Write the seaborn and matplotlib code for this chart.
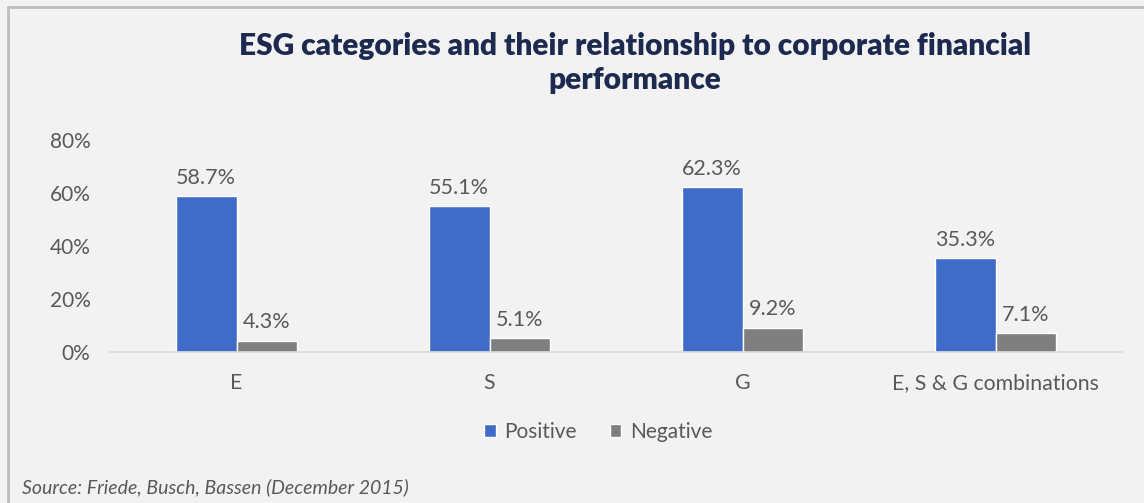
import matplotlib
matplotlib.use("Agg")
import matplotlib.pyplot as plt
from matplotlib.lines import Line2D
from matplotlib.patches import Patch
import seaborn as sns
import pandas as pd

categories = ["E", "S", "G", "E, S & G combinations"]
positive = [58.7, 55.1, 62.3, 35.3]
negative = [4.3, 5.1, 9.2, 7.1]
series = ["Positive", "Negative"]
yticks = [0, 20, 40, 60, 80]

BG = "#f2f2f2"
BLUE = "#3f6cc9"
GREY = "#7f7f7f"
TEXT = "#595959"
TITLE = "#1c2a4f"
FONT = ["Lato", "DejaVu Sans"]

sns.set_theme(style="white")
plt.rcParams["font.family"] = FONT

df = pd.DataFrame({
    "category": categories * 2,
    "series": [series[0]] * len(categories) + [series[1]] * len(categories),
    "value": positive + negative,
})

fig = plt.figure(figsize=(11.44, 5.03), dpi=100, facecolor=BG)
ax = fig.add_axes([110 / 1144, 151 / 503, 1012 / 1144, 212 / 503])
ax.set_facecolor(BG)

sns.barplot(data=df, x="category", y="value", hue="series", order=categories,
            hue_order=series, palette=[BLUE, GREY], width=0.48, gap=0,
            saturation=1, ax=ax, legend=False)

for cont in ax.containers:
    ax.bar_label(cont, labels=[f"{v:.1f}%" for v in cont.datavalues],
                 padding=6, fontsize=15.5, color=TEXT)

ax.set_ylim(0, 80)
ax.set_xlim(-0.5, 3.5)
ax.set_yticks(yticks)
ax.set_yticklabels([f"{t}%" for t in yticks], fontsize=15, color=TEXT)
ax.tick_params(axis="y", length=0, pad=14)
ax.tick_params(axis="x", length=0, pad=15, labelsize=15.3, labelcolor=TEXT)
ax.set_xlabel("")
ax.set_ylabel("")
for side in ["top", "right", "left"]:
    ax.spines[side].set_visible(False)
ax.spines["bottom"].set_color("#d9d9d9")
ax.spines["bottom"].set_linewidth(1.2)

fig.text(0.555, 1 - 63 / 503, "ESG categories and their relationship to corporate financial\nperformance",
         ha="center", va="center", fontsize=21.5, fontweight="heavy", color=TITLE,
         linespacing=1.28)

handles = [Patch(facecolor=BLUE, label=series[0]), Patch(facecolor=GREY, label=series[1])]
fig.legend(handles=handles, loc="center", bbox_to_anchor=(0.523, 1 - 432 / 503), ncol=2,
           frameon=False, fontsize=15, handlelength=0.55, handleheight=0.55,
           handletextpad=0.4, columnspacing=1.6, labelcolor=TEXT)

fig.text(22 / 1144, 1 - 487 / 503, "Source: Friede, Busch, Bassen (December 2015)",
         ha="left", va="center", fontsize=14, style="italic", color=TEXT)

# frame edges along the top and the left
fig.add_artist(Line2D([8 / 1144, 1], [1 - 7 / 503, 1 - 7 / 503], color="#bdbdbd", lw=2))
fig.add_artist(Line2D([8 / 1144, 8 / 1144], [0, 1 - 7 / 503], color="#bdbdbd", lw=2))

fig.savefig("out.png", dpi=100, facecolor=BG)
